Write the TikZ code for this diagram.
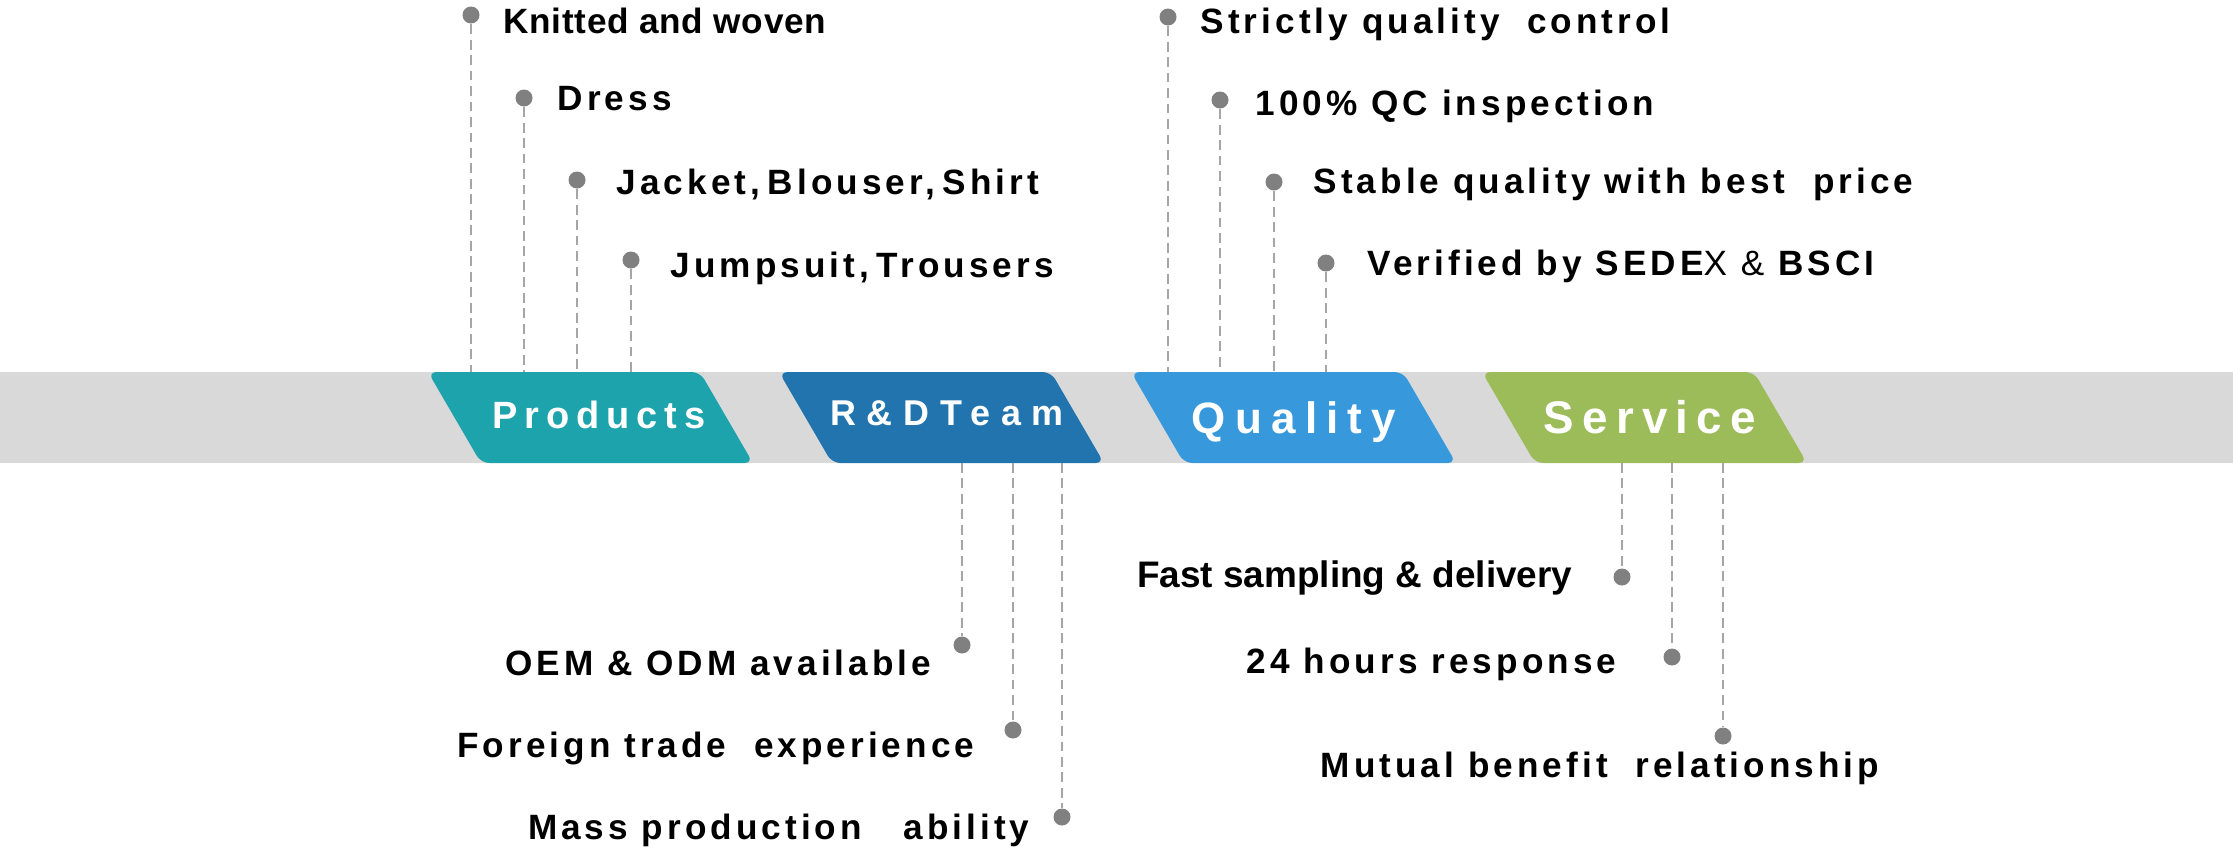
\documentclass[tikz,border=0pt]{standalone}
\usepackage{fontspec}
\setmainfont{Liberation Sans}
\definecolor{bandgray}{HTML}{D9D9D9}
\definecolor{leadgray}{HTML}{A6A6A6}
\definecolor{dotgray}{HTML}{808080}
\definecolor{prodteal}{HTML}{1CA3AC}
\definecolor{rdblue}{HTML}{2174AE}
\definecolor{qualblue}{HTML}{3799DC}
\definecolor{servgreen}{HTML}{9CBB59}
\begin{document}
\begin{tikzpicture}[x=0.01cm,y=-0.01cm,line join=bevel,
  lead/.style={draw=leadgray,line width=0.55pt,dash pattern=on 2.8pt off 1.6pt},
  dot/.style={circle,fill=dotgray,inner sep=0pt,minimum size=0.17cm},
  item/.style={inner sep=0pt,font=\fontsize{10}{12}\selectfont\bfseries\addfontfeatures{LetterSpace=11.5}},
  itemtight/.style={inner sep=0pt,font=\fontsize{10}{12}\selectfont\bfseries\addfontfeatures{LetterSpace=2}},
  tab/.style={inner sep=0pt,text=white,anchor=base},
]
\useasboundingbox (0,0) rectangle (2233,847);
%%
\fill [bandgray] (0,372) rectangle (2233,463);
\fill [prodteal,rounded corners=2.4pt] (428,372) -- (700,372) -- (753,463) -- (481,463) -- cycle;
\fill [rdblue,rounded corners=2.4pt] (779,372) -- (1051,372) -- (1104,463) -- (832,463) -- cycle;
\fill [qualblue,rounded corners=2.4pt] (1131,372) -- (1403,372) -- (1456,463) -- (1184,463) -- cycle;
\fill [servgreen,rounded corners=2.4pt] (1482,372) -- (1754,372) -- (1807,463) -- (1535,463) -- cycle;
\node (node_0) at (599,428) [tab,font=\fontsize{10.8}{13}\selectfont\bfseries\addfontfeatures{LetterSpace=18}] {Products};
\node (node_1) at (947,425) [tab,font=\fontsize{10.2}{12}\selectfont\bfseries\addfontfeatures{LetterSpace=30}] {R\&DTeam};
\node (node_2) at (1294,433) [tab,font=\fontsize{12.5}{15}\selectfont\bfseries\addfontfeatures{LetterSpace=21}] {Quality};
\node (node_3) at (1650,433) [tab,font=\fontsize{13}{15}\selectfont\bfseries\addfontfeatures{LetterSpace=18}] {Service};
%% products
\node (dot_1) at (471,15) [dot] {};
\node (dot_2) at (524,98) [dot] {};
\node (dot_3) at (577,180) [dot] {};
\node (dot_4) at (631,260) [dot] {};
\node (item_1) at (503,33) [itemtight,anchor=base west] {Knitted and woven};
\node (item_2) at (557,110) [item,anchor=base west] {Dress};
\node (item_3) at (616,194) [item,anchor=base west] {\spaceskip=0.22em\relax Jacket, Blouser, Shirt};
\node (item_4) at (670,277) [item,anchor=base west] {\spaceskip=0.22em\relax Jumpsuit, Trousers};
\coordinate (foot_1) at (471,372);
\coordinate (foot_2) at (524,372);
\coordinate (foot_3) at (577,372);
\coordinate (foot_4) at (631,372);
\draw [lead] (dot_1) -- (foot_1);
\draw [lead] (dot_2) -- (foot_2);
\draw [lead] (dot_3) -- (foot_3);
\draw [lead] (dot_4) -- (foot_4);
%% quality
\node (dot_5) at (1168,17) [dot] {};
\node (dot_6) at (1220,100) [dot] {};
\node (dot_7) at (1274,182) [dot] {};
\node (dot_8) at (1326,263) [dot] {};
\node (item_5) at (1200,33) [item,anchor=base west] {Strictly quality\ \ control};
\node (item_6) at (1255,115) [item,anchor=base west] {100\% QC inspection};
\node (item_7) at (1313,193) [item,anchor=base west] {Stable quality with best\ \ price};
\node (item_8) at (1367,275) [item,anchor=base west] {Verified by SEDE{\mdseries X} {\mdseries\&} BSCI};
\coordinate (foot_5) at (1168,372);
\coordinate (foot_6) at (1220,372);
\coordinate (foot_7) at (1274,372);
\coordinate (foot_8) at (1326,372);
\draw [lead] (dot_5) -- (foot_5);
\draw [lead] (dot_6) -- (foot_6);
\draw [lead] (dot_7) -- (foot_7);
\draw [lead] (dot_8) -- (foot_8);
%% r&d team
\node (dot_9) at (962,645) [dot] {};
\node (dot_10) at (1013,730) [dot] {};
\node (dot_11) at (1062,817) [dot] {};
\node (item_9) at (932,675) [item,anchor=base east] {OEM \& ODM available};
\node (item_10) at (975,757) [item,anchor=base east] {Foreign trade\ \ experience};
\node (item_11) at (1030,839) [item,anchor=base east] {Mass production\ \ \ ability};
\coordinate (foot_9) at (962,463);
\coordinate (foot_10) at (1013,463);
\coordinate (foot_11) at (1062,463);
\draw [lead] (foot_9) -- (dot_9);
\draw [lead] (foot_10) -- (dot_10);
\draw [lead] (foot_11) -- (dot_11);
%% service
\node (dot_12) at (1622,577) [dot] {};
\node (dot_13) at (1672,657) [dot] {};
\node (dot_14) at (1723,736) [dot] {};
\node (item_12) at (1573,587) [inner sep=0pt,anchor=base east,font=\fontsize{10.5}{12}\selectfont\bfseries] {Fast sampling \& delivery};
\node (item_13) at (1617,673) [item,anchor=base east] {24 hours response};
\node (item_14) at (1600,777) [item,anchor=base] {Mutual benefit\ \ relationship};
\coordinate (foot_12) at (1622,463);
\coordinate (foot_13) at (1672,463);
\coordinate (foot_14) at (1723,463);
\draw [lead] (foot_12) -- (dot_12);
\draw [lead] (foot_13) -- (dot_13);
\draw [lead] (foot_14) -- (dot_14);
%
\end{tikzpicture}
\end{document}
